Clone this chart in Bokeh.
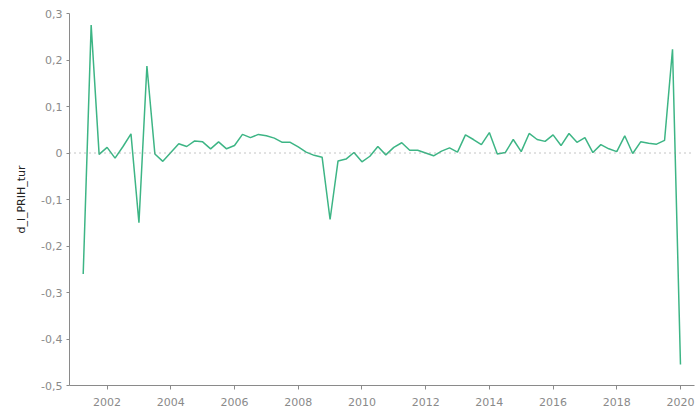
from bokeh.plotting import figure
from bokeh.models import Span, FixedTicker, Range1d, CustomJSTickFormatter
from bokeh.embed import file_html
from bokeh.resources import INLINE

# quarterly periods 2001:2 .. 2020:1
years = [y for y in range(2001, 2021) for q in range(1, 5)][1:77]
qtrs = [q for y in range(2001, 2021) for q in range(1, 5)][1:77]
t = [y + (q - 1) / 4 for y, q in zip(years, qtrs)]

d_l_PRIH_tur = [
    -0.260, 0.275, -0.003,
    0.012, -0.011, 0.014, 0.041,
    -0.150, 0.187, -0.002, -0.018,
    0.001, 0.020, 0.014, 0.026,
    0.024, 0.009, 0.024, 0.009,
    0.016, 0.040, 0.033, 0.040,
    0.037, 0.032, 0.023, 0.023,
    0.013, 0.002, -0.005, -0.009,
    -0.143, -0.017, -0.013, 0.001,
    -0.019, -0.007, 0.014, -0.004,
    0.012, 0.022, 0.006, 0.006,
    0.000, -0.006, 0.004, 0.011,
    0.002, 0.039, 0.029, 0.018,
    0.044, -0.002, 0.001, 0.029,
    0.003, 0.042, 0.029, 0.025,
    0.039, 0.016, 0.042, 0.023,
    0.033, 0.001, 0.018, 0.009,
    0.003, 0.037, -0.001, 0.024,
    0.021, 0.019, 0.027, 0.223,
    -0.455,
]

x_ticks = [2002, 2004, 2006, 2008, 2010, 2012, 2014, 2016, 2018, 2020]
y_ticks = [-0.5, -0.4, -0.3, -0.2, -0.1, 0, 0.1, 0.2, 0.3]

p = figure(width=696, height=412, output_backend="svg", toolbar_location=None,
           x_range=Range1d(2000.82, 2020.44), y_range=Range1d(-0.5, 0.3),
           min_border_left=69, min_border_right=2, min_border_top=13, min_border_bottom=27)
p.outline_line_color = None
p.xgrid.visible = False
p.ygrid.visible = False
p.background_fill_color = "white"
p.border_fill_color = "white"

p.add_layout(Span(location=0, dimension="width", line_color="#888888",
                  line_width=1, line_dash="1 4"))
p.line(t, d_l_PRIH_tur, line_color="#3db585", line_width=1.5)

axis_col = "#8a8a8a"
for ax in (p.xaxis[0], p.yaxis[0]):
    ax.axis_line_color = axis_col
    ax.major_tick_line_color = axis_col
    ax.minor_tick_line_color = None
    ax.major_tick_in = 0
    ax.major_label_text_font = "DejaVu Sans"
    ax.major_label_text_font_size = "11px"
    ax.major_label_text_color = "#8a8a8a"

p.xaxis[0].ticker = FixedTicker(ticks=x_ticks)
p.xaxis[0].major_tick_out = 4
p.xaxis[0].major_label_standoff = 8

p.yaxis[0].ticker = FixedTicker(ticks=y_ticks)
p.yaxis[0].major_tick_out = 3
p.yaxis[0].major_label_standoff = 4
p.yaxis[0].formatter = CustomJSTickFormatter(code="""
if (Math.abs(tick) < 1e-9) { return '0'; }
return tick.toFixed(1).replace('.', ',');
""")
p.yaxis[0].axis_label = "d_l_PRIH_tur"
p.yaxis[0].axis_label_text_font = "DejaVu Sans"
p.yaxis[0].axis_label_text_font_size = "11px"
p.yaxis[0].axis_label_text_font_style = "normal"
p.yaxis[0].axis_label_text_color = "#222222"
p.yaxis[0].axis_label_standoff = 10

open("out.html", "w").write(file_html(p, INLINE))
